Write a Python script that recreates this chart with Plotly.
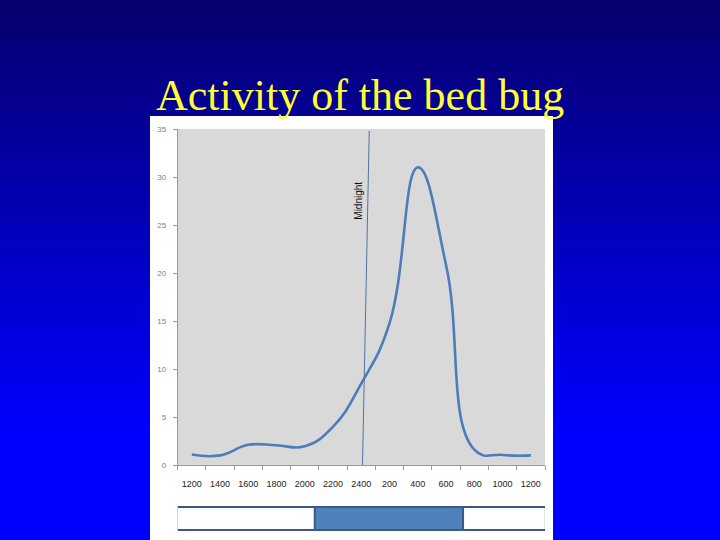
import plotly.graph_objects as go

# bed bug activity over a day
hours = ["1200", "1400", "1600", "1800", "2000", "2200", "2400",
         "200", "400", "600", "800", "1000", "1200"]
activity = [1.1, 1.0, 2.1, 2.05, 1.95, 4.0, 8.5, 14.8, 31.0, 20.8, 1.6, 1.05, 1.0]

# night band under the axis, in category-index units
night_start = 4.35
night_end = 9.6

# the hand drawn "midnight" line, in category-index units
midnight_x = [6.04, 6.28]
midnight_y = [0, 34.8]

pos = list(range(len(hours)))

W, H = 720, 540


def fy(px):
    # pixel row from the top -> paper y
    return 1 - px / H


fig = go.Figure()

fig.add_trace(go.Scatter(
    x=pos, y=activity, mode="lines",
    line=dict(color="#4a7ebb", width=2.6, shape="spline", smoothing=1.3),
    hoverinfo="skip", showlegend=False,
))

fig.add_trace(go.Scatter(
    x=midnight_x, y=midnight_y, mode="lines",
    line=dict(color="#4f73a8", width=1),
    hoverinfo="skip", showlegend=False,
))

# background gradient, navy at the top to pure blue lower down
shapes = []
n = 60
for i in range(n):
    t = min(1.0, (i + 0.5) / n / 0.8)
    r = int(round(6 * (1 - t)))
    b = int(round(108 + (255 - 108) * t))
    shapes.append(dict(type="rect", xref="paper", yref="paper",
                       x0=0, x1=1, y0=fy(H * (i + 1) / n), y1=fy(H * i / n) + 0.002,
                       fillcolor=f"rgb({r},0,{b})", line=dict(width=0), layer="below"))

# white chart panel
shapes.append(dict(type="rect", xref="paper", yref="paper",
                   x0=150 / W, x1=553 / W, y0=0, y1=fy(116),
                   fillcolor="white", line=dict(width=0), layer="below"))
# grey plot area
shapes.append(dict(type="rect", xref="x domain", yref="y domain",
                   x0=0, x1=1, y0=0, y1=1,
                   fillcolor="#d9d9d9", line=dict(width=0), layer="below"))

# day / night bar
bar_y0 = fy(530)
bar_y1 = fy(507)
shapes.append(dict(type="rect", xref="x", yref="paper",
                   x0=night_start, x1=night_end, y0=bar_y0, y1=bar_y1,
                   fillcolor="#4f81bd", line=dict(width=0)))
shapes.append(dict(type="rect", xref="x", yref="paper",
                   x0=-0.53, x1=12.53, y0=bar_y0, y1=bar_y1,
                   fillcolor="rgba(0,0,0,0)", line=dict(color="#3b5a80", width=2)))
shapes.append(dict(type="line", xref="x", yref="paper",
                   x0=night_start, x1=night_start, y0=bar_y0, y1=bar_y1,
                   line=dict(color="#3b5a80", width=2)))
shapes.append(dict(type="line", xref="x", yref="paper",
                   x0=night_end, x1=night_end, y0=bar_y0, y1=bar_y1,
                   line=dict(color="#3b5a80", width=2)))

fig.update_layout(
    width=W, height=H,
    margin=dict(l=0, r=0, t=0, b=0, pad=0, autoexpand=False),
    paper_bgcolor="#0000c0",
    plot_bgcolor="rgba(0,0,0,0)",
    shapes=shapes,
    showlegend=False,
    annotations=[
        dict(text="Activity of the bed bug", xref="paper", yref="paper",
             x=0.5, y=fy(95), xanchor="center", yanchor="middle",
             showarrow=False,
             font=dict(family="Liberation Serif", size=44, color="#ffff33")),
        dict(text="Midnight", xref="x", yref="y", x=5.87, y=27.5,
             textangle=-90, showarrow=False,
             font=dict(family="Liberation Sans", size=10, color="#111111")),
    ],
)

fig.update_xaxes(
    domain=[177.7 / W, 545 / W],
    range=[-0.5, 12.5],
    tickvals=pos, ticktext=hours,
    ticks="", showgrid=False, zeroline=False, automargin=False,
    showline=True, linecolor="#9a9a9a", linewidth=1,
    minor=dict(ticks="outside", tick0=-0.5, dtick=1, ticklen=4,
               tickcolor="#9a9a9a", showgrid=False),
    tickfont=dict(family="Liberation Sans", size=9, color="#222222"),
    ticklabelstandoff=10,
)
fig.update_yaxes(
    domain=[fy(465), fy(129)],
    range=[0, 35], dtick=5,
    ticks="outside", ticklen=4, tickcolor="#9a9a9a",
    showgrid=False, zeroline=False, automargin=False,
    showline=True, linecolor="#9a9a9a", linewidth=1,
    tickfont=dict(family="Liberation Sans", size=8, color="#808080"),
    ticklabelstandoff=5,
)

page_fix = ("document.documentElement.style.margin = '0';"
            "document.documentElement.style.overflow = 'hidden';"
            "document.body.style.margin = '0';"
            "document.body.style.padding = '0';"
            "document.body.style.overflow = 'hidden';")

fig.write_html("out.html", config={"displayModeBar": False}, post_script=page_fix)
